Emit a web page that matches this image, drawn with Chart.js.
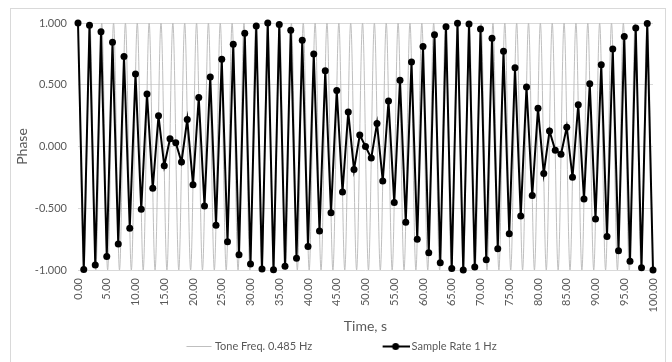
<!DOCTYPE html>
<html>
<head>
<meta charset="utf-8">
<script src="https://cdn.jsdelivr.net/npm/chart.js@4"></script>
<style>
  html, body { margin: 0; padding: 0; background: #fff; }
</style>
</head>
<body>
<canvas id="myChart" width="672" height="362"></canvas>
<script>
// samples taken once a second
const sampleTime = [
  0, 1, 2, 3, 4, 5, 6, 7, 8, 9, 10, 11, 12, 13, 14, 15, 16, 17, 18, 19,
  20, 21, 22, 23, 24, 25, 26, 27, 28, 29, 30, 31, 32, 33, 34, 35, 36, 37, 38, 39,
  40, 41, 42, 43, 44, 45, 46, 47, 48, 49, 50, 51, 52, 53, 54, 55, 56, 57, 58, 59,
  60, 61, 62, 63, 64, 65, 66, 67, 68, 69, 70, 71, 72, 73, 74, 75, 76, 77, 78, 79,
  80, 81, 82, 83, 84, 85, 86, 87, 88, 89, 90, 91, 92, 93, 94, 95, 96, 97, 98, 99, 100
]
const samplePhase = [
  1.000, -0.996, 0.982, -0.960, 0.930, -0.891, 0.844, -0.790, 0.729, -0.661,
  0.588, -0.509, 0.426, -0.339, 0.249, -0.156, 0.063, 0.031, -0.125, 0.218,
  -0.309, 0.397, -0.482, 0.562, -0.637, 0.707, -0.771, 0.827, -0.876, 0.918,
  -0.951, 0.976, -0.992, 1.000, -0.998, 0.988, -0.969, 0.941, -0.905, 0.861,
  -0.809, 0.750, -0.685, 0.613, -0.536, 0.454, -0.368, 0.279, -0.187, 0.094,
  0.000, -0.094, 0.187, -0.279, 0.368, -0.454, 0.536, -0.613, 0.685, -0.750,
  0.809, -0.861, 0.905, -0.941, 0.969, -0.988, 0.998, -1.000, 0.992, -0.976,
  0.951, -0.918, 0.876, -0.827, 0.771, -0.707, 0.637, -0.562, 0.482, -0.397,
  0.309, -0.218, 0.125, -0.031, -0.063, 0.156, -0.249, 0.339, -0.426, 0.509,
  -0.588, 0.661, -0.729, 0.790, -0.844, 0.891, -0.930, 0.960, -0.982, 0.996,
  -1.000
]

// tone peaks and troughs (0.485 Hz)
const toneTime = [
  0, 1.031, 2.062, 3.093, 4.124, 5.155, 6.186, 7.216, 8.247, 9.278,
  10.309, 11.340, 12.371, 13.402, 14.433, 15.464, 16.495, 17.526, 18.557, 19.588,
  20.619, 21.649, 22.680, 23.711, 24.742, 25.773, 26.804, 27.835, 28.866, 29.897,
  30.928, 31.959, 32.990, 34.021, 35.052, 36.082, 37.113, 38.144, 39.175, 40.206,
  41.237, 42.268, 43.299, 44.330, 45.361, 46.392, 47.423, 48.454, 49.485, 50.515,
  51.546, 52.577, 53.608, 54.639, 55.670, 56.701, 57.732, 58.763, 59.794, 60.825,
  61.856, 62.887, 63.918, 64.948, 65.979, 67.010, 68.041, 69.072, 70.103, 71.134,
  72.165, 73.196, 74.227, 75.258, 76.289, 77.320, 78.351, 79.381, 80.412, 81.443,
  82.474, 83.505, 84.536, 85.567, 86.598, 87.629, 88.660, 89.691, 90.722, 91.753,
  92.784, 93.814, 94.845, 95.876, 96.907, 97.938, 98.969, 100.000
]
const tonePhase = [
  1, -1, 1, -1, 1, -1, 1, -1, 1, -1, 1, -1, 1, -1, 1, -1, 1, -1, 1, -1,
  1, -1, 1, -1, 1, -1, 1, -1, 1, -1, 1, -1, 1, -1, 1, -1, 1, -1, 1, -1,
  1, -1, 1, -1, 1, -1, 1, -1, 1, -1, 1, -1, 1, -1, 1, -1, 1, -1, 1, -1,
  1, -1, 1, -1, 1, -1, 1, -1, 1, -1, 1, -1, 1, -1, 1, -1, 1, -1, 1, -1,
  1, -1, 1, -1, 1, -1, 1, -1, 1, -1, 1, -1, 1, -1, 1, -1, 1, -1
]

const seriesNames = ['Tone Freq. 0.485 Hz', 'Sample Rate 1 Hz']

const grey = '#595959'
Chart.defaults.font.family = 'Lato, "Open Sans", sans-serif'
Chart.defaults.font.size = 11
Chart.defaults.color = grey

// little legend pictures: line, or line with a dot
function legendIcon(w, x0, x1, color, lw, dotX) {
  const c = document.createElement('canvas')
  c.width = w
  c.height = 11
  const g = c.getContext('2d')
  g.strokeStyle = color
  g.lineWidth = lw
  g.beginPath()
  g.moveTo(x0, 5.5)
  g.lineTo(x1, 5.5)
  g.stroke()
  if (dotX != null) {
    g.fillStyle = color
    g.beginPath()
    g.arc(dotX, 5.5, 3.5, 0, Math.PI * 2)
    g.fill()
  }
  return c
}
const icons = [
  legendIcon(58, 32.5, 57.5, '#bfbfbf', 1),
  legendIcon(60, 33, 60, '#000', 2, 46)
]

const frame = {
  id: 'frame',
  beforeDraw(chart) {
    const c = chart.ctx
    c.save()
    c.fillStyle = '#fff'
    c.fillRect(0, 0, chart.width, chart.height)
    c.strokeStyle = '#d9d9d9'
    c.lineWidth = 1
    c.strokeRect(10.5, 8.5, 655, 360)
    c.restore()
  }
}

function noPad(s) {
  s.paddingTop = 0
  s.paddingBottom = 0
  s.paddingLeft = 0
  s.paddingRight = 0
}

const ctx = document.getElementById('myChart')
new Chart(ctx, {
  type: 'line',
  data: {
    datasets: [
      {
        label: seriesNames[0],
        data: toneTime.map((t, i) => ({ x: t, y: tonePhase[i] })),
        borderColor: '#bfbfbf',
        borderWidth: 1,
        pointRadius: 0,
        cubicInterpolationMode: 'monotone',
        order: 1
      },
      {
        label: seriesNames[1],
        data: sampleTime.map((t, i) => ({ x: t, y: samplePhase[i] })),
        borderColor: '#000',
        borderWidth: 2,
        backgroundColor: '#000',
        pointRadius: 3.5,
        pointBorderWidth: 0,
        pointBackgroundColor: '#000',
        lineTension: 0,
        clip: false,
        order: 0
      }
    ]
  },
  options: {
    responsive: false,
    animation: false,
    devicePixelRatio: 1,
    layout: { padding: { top: 23, right: 19, left: 0, bottom: 0 } },
    scales: {
      x: {
        type: 'linear',
        min: 0,
        max: 100,
        grid: { display: false, drawTicks: false },
        border: { display: false },
        ticks: {
          stepSize: 5,
          autoSkip: false,
          maxRotation: 90,
          minRotation: 90,
          padding: 8,
          callback: v => v.toFixed(2)
        },
        title: {
          display: true,
          text: 'Time, s',
          font: { size: 14, lineHeight: 0.7 },
          padding: 0
        },
        afterFit: s => { s.height = 61; noPad(s) }
      },
      y: {
        min: -1,
        max: 1,
        grid: { color: '#d9d9d9', drawTicks: false },
        border: { display: false },
        ticks: {
          stepSize: 0.5,
          padding: 11,
          callback: v => v.toFixed(3)
        },
        title: {
          display: true,
          text: 'Phase',
          font: { size: 14 },
          padding: { top: 14, bottom: 0 }
        },
        afterFit: s => { s.width = 78; noPad(s) }
      }
    },
    plugins: {
      legend: {
        position: 'bottom',
        labels: {
          usePointStyle: true,
          pointStyleWidth: 53,
          padding: 10,
          color: grey,
          sort: (a, b) => a.datasetIndex - b.datasetIndex,
          generateLabels(chart) {
            const items = Chart.defaults.plugins.legend.labels.generateLabels(chart)
            items.forEach(it => {
              it.pointStyle = icons[it.datasetIndex]
              // keep room between the two entries
              if (it.datasetIndex === 0) it.text = it.text + ' '.repeat(11)
            })
            return items
          }
        }
      },
      tooltip: { enabled: false }
    }
  },
  plugins: [frame]
})
</script>
</body>
</html>
